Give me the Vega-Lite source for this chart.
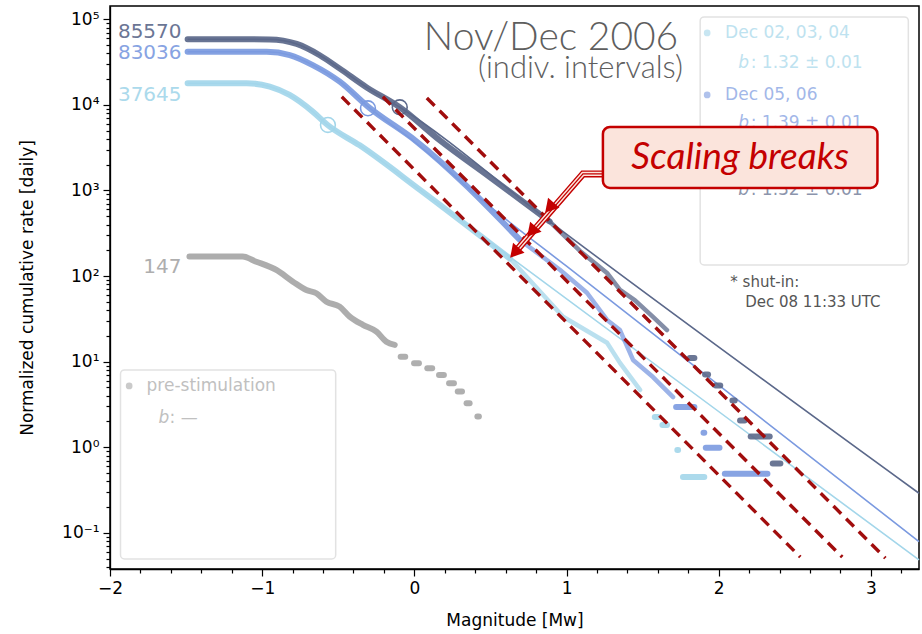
{
"$schema":"https://vega.github.io/schema/vega-lite/v6.json",
"width":809,"height":563,
"autosize":{"type":"none"},
"padding":{"left":110,"top":6,"right":3,"bottom":65},
"background":"white",
"config":{"view":{"stroke":"#000","strokeWidth":1.5},"font":"DejaVu Sans",
 "axis":{"grid":false,"domainColor":"#000","domainWidth":1.3,"tickColor":"#000","tickWidth":1.2,"labelColor":"#000","labelFont":"DejaVu Sans","labelFontSize":17,"titleFont":"DejaVu Sans","titleFontSize":17,"titleFontWeight":"normal","titleColor":"#000","labelPadding":4,"labelOverlap":false,"labelFlush":false,"labelBound":false}},
"datasets":{
 "lines":[
  {"s":"d","k":"model","m":-1.49,"v":58340},{"s":"d","k":"model","m":-0.95,"v":58200},{"s":"d","k":"model","m":-0.773,"v":51500},{"s":"d","k":"model","m":-0.622,"v":38000},{"s":"d","k":"model","m":-0.49,"v":26500},{"s":"d","k":"model","m":-0.313,"v":16000},{"s":"d","k":"model","m":-0.096,"v":9376},{"s":"d","k":"model","m":0.888,"v":435.5},{"s":"d","k":"model","m":3.316,"v":0.29},
  {"s":"d","k":"data","m":-1.49,"v":58340},{"s":"d","k":"data","m":-0.95,"v":58200},{"s":"d","k":"data","m":-0.773,"v":51500},{"s":"d","k":"data","m":-0.622,"v":38000},{"s":"d","k":"data","m":-0.49,"v":26500},{"s":"d","k":"data","m":-0.313,"v":16000},{"s":"d","k":"data","m":-0.096,"v":9376},{"s":"d","k":"data","m":0.168,"v":3846},{"s":"d","k":"data","m":0.5,"v":1416},{"s":"d","k":"data","m":0.888,"v":435.5},
  {"s":"d","k":"tail","m":0.888,"v":435.5},{"s":"d","k":"tail","m":1.088,"v":196.3},{"s":"d","k":"tail","m":1.266,"v":108.6},{"s":"d","k":"tail","m":1.351,"v":68.9},{"s":"d","k":"tail","m":1.45,"v":52},{"s":"d","k":"tail","m":1.568,"v":33.3},{"s":"d","k":"tail","m":1.66,"v":23.4},
  {"s":"b","k":"model","m":-1.49,"v":41780},{"s":"b","k":"model","m":-0.97,"v":41780},{"s":"b","k":"model","m":-0.819,"v":38190},{"s":"b","k":"model","m":-0.668,"v":29170},{"s":"b","k":"model","m":-0.49,"v":18660},{"s":"b","k":"model","m":-0.305,"v":9550},{"s":"b","k":"model","m":0.009,"v":3600},{"s":"b","k":"model","m":0.5,"v":641.2},{"s":"b","k":"model","m":1.0,"v":130.3},{"s":"b","k":"model","m":3.316,"v":0.0789},
  {"s":"b","k":"data","m":-1.49,"v":41780},{"s":"b","k":"data","m":-0.97,"v":41780},{"s":"b","k":"data","m":-0.819,"v":38190},{"s":"b","k":"data","m":-0.668,"v":29170},{"s":"b","k":"data","m":-0.49,"v":18660},{"s":"b","k":"data","m":-0.305,"v":9550},{"s":"b","k":"data","m":0.009,"v":3802},{"s":"b","k":"data","m":0.694,"v":264.2},
  {"s":"b","k":"tail","m":0.694,"v":264.2},{"s":"b","k":"tail","m":0.956,"v":118.3},{"s":"b","k":"tail","m":1.134,"v":63.8},{"s":"b","k":"tail","m":1.266,"v":30.7},{"s":"b","k":"tail","m":1.351,"v":23.4},{"s":"b","k":"tail","m":1.437,"v":10.47},{"s":"b","k":"tail","m":1.568,"v":6.61},{"s":"b","k":"tail","m":1.7,"v":3.855},
  {"s":"l","k":"model","m":-1.49,"v":17860},{"s":"l","k":"model","m":-1.101,"v":17860},{"s":"l","k":"model","m":-0.95,"v":16330},{"s":"l","k":"model","m":-0.82,"v":13060},{"s":"l","k":"model","m":-0.668,"v":8337},{"s":"l","k":"model","m":-0.57,"v":5821},{"s":"l","k":"model","m":-0.359,"v":3365},{"s":"l","k":"model","m":0.037,"v":1016},{"s":"l","k":"model","m":0.628,"v":167.5},{"s":"l","k":"model","m":3.316,"v":0.0482},
  {"s":"l","k":"data","m":-1.49,"v":17860},{"s":"l","k":"data","m":-1.101,"v":17860},{"s":"l","k":"data","m":-0.95,"v":16330},{"s":"l","k":"data","m":-0.82,"v":13060},{"s":"l","k":"data","m":-0.668,"v":8337},{"s":"l","k":"data","m":-0.57,"v":5821},{"s":"l","k":"data","m":-0.359,"v":3365},{"s":"l","k":"data","m":0.037,"v":1016},{"s":"l","k":"data","m":0.628,"v":160},
  {"s":"l","k":"tail","m":0.628,"v":160},{"s":"l","k":"tail","m":0.977,"v":33.42},{"s":"l","k":"tail","m":1.266,"v":16.6},{"s":"l","k":"tail","m":1.351,"v":9.68},{"s":"l","k":"tail","m":1.483,"v":4.677},
  {"s":"p","k":"data","m":-1.478,"v":168.7},{"s":"p","k":"data","m":-1.129,"v":168.7},{"s":"p","k":"data","m":-1.039,"v":147.2},{"s":"p","k":"data","m":-0.907,"v":117.8},{"s":"p","k":"data","m":-0.798,"v":85.9},{"s":"p","k":"data","m":-0.71,"v":68.7},{"s":"p","k":"data","m":-0.644,"v":63.0},{"s":"p","k":"data","m":-0.578,"v":50.2},{"s":"p","k":"data","m":-0.491,"v":43.9},{"s":"p","k":"data","m":-0.425,"v":33.6},{"s":"p","k":"data","m":-0.338,"v":26.9},{"s":"p","k":"data","m":-0.249,"v":22.4},{"s":"p","k":"data","m":-0.184,"v":17.1},{"s":"p","k":"data","m":-0.129,"v":15.7}
 ],
 "steps":[
  {"s":"d","m":1.81,"m2":1.84,"v":11.04},{"s":"d","m":1.91,"m2":1.93,"v":7.079},{"s":"d","m":1.98,"m2":2.01,"v":5.272},{"s":"d","m":2.09,"m2":2.105,"v":3.524},{"s":"d","m":2.14,"m2":2.17,"v":2.056},{"s":"d","m":2.21,"m2":2.335,"v":1.337},{"s":"d","m":2.355,"m2":2.405,"v":0.6471},
  {"s":"b","m":1.72,"m2":1.84,"v":2.951},{"s":"b","m":1.9,"m2":1.905,"v":1.476},{"s":"b","m":1.915,"m2":2.005,"v":0.9863},{"s":"b","m":2.04,"m2":2.32,"v":0.4898},
  {"s":"l","m":1.58,"m2":1.6,"v":2.259},{"s":"l","m":1.63,"m2":1.66,"v":1.82},{"s":"l","m":1.728,"m2":1.733,"v":0.929},{"s":"l","m":1.765,"m2":1.905,"v":0.4498},
  {"s":"p","m":-0.09,"m2":-0.06,"v":11.4},{"s":"p","m":-0.002,"m2":0.03,"v":9.57},{"s":"p","m":0.085,"m2":0.117,"v":8.38},{"s":"p","m":0.162,"m2":0.194,"v":7.0},{"s":"p","m":0.228,"m2":0.26,"v":5.6},{"s":"p","m":0.285,"m2":0.313,"v":4.47},{"s":"p","m":0.343,"m2":0.363,"v":3.27},{"s":"p","m":0.414,"m2":0.424,"v":2.28}
 ],
 "circles":[{"s":"d","m":-0.096,"v":9376},{"s":"b","m":-0.305,"v":9120},{"s":"l","m":-0.568,"v":5821}],
 "dashed":[{"g":"A","m":-0.477,"v":12420},{"g":"A","m":2.536,"v":0.0521},{"g":"B","m":-0.207,"v":12420},{"g":"B","m":2.812,"v":0.0521},{"g":"C","m":0.082,"v":12050},{"g":"C","m":3.095,"v":0.0507}],
 "boxes":[{"m":1.878,"m2":3.246,"v":106400,"v2":134.9},{"m":-1.931,"m2":-0.517,"v":8.0,"v2":0.0495}],
 "legend":[
  {"role":"dot","s":"l","m":1.924,"v":69180},{"role":"title","s":"l","m":2.042,"v":69180,"t":"Dec 02, 03, 04"},{"role":"b","s":"l","m":2.128,"v":30620,"t":"b"},{"role":"val","s":"l","m":2.21,"v":30620,"t":": 1.32 ± 0.01"},
  {"role":"dot","s":"b","m":1.924,"v":13060},{"role":"title","s":"b","m":2.042,"v":13060,"t":"Dec 05, 06"},{"role":"b","s":"b","m":2.128,"v":6095,"t":"b"},{"role":"val","s":"b","m":2.21,"v":6095,"t":": 1.39 ± 0.01"},
  {"role":"dot","s":"d","m":1.924,"v":2483},{"role":"title","s":"d","m":2.042,"v":2483,"t":"Dec 07 – shut-in"},{"role":"b","s":"d","m":2.128,"v":1014,"t":"b"},{"role":"val","s":"d","m":2.21,"v":1014,"t":": 1.32 ± 0.01"},
  {"role":"dot","s":"p","m":-1.874,"v":5.2},{"role":"title","s":"p","m":-1.76,"v":5.2,"t":"pre-stimulation"},{"role":"b","s":"p","m":-1.681,"v":2.2,"t":"b"},{"role":"val","s":"p","m":-1.609,"v":2.2,"t":": —"}
 ],
 "counts":[{"s":"d","m":-1.53,"v":71610,"t":"85570"},{"s":"b","m":-1.53,"v":40090,"t":"83036"},{"s":"l","m":-1.53,"v":13060,"t":"37645"},{"s":"p","m":-1.53,"v":128.8,"t":"147"}],
 "notes":[{"role":"h1","m":1.734,"v":43750,"t":"Nov/Dec 2006"},{"role":"h2","m":1.766,"v":20610,"t":"(indiv. intervals)"},{"role":"foot","m":2.076,"v":86.1,"t":"* shut-in:"},{"role":"foot","m":2.174,"v":50.2,"t":"Dec 08  11:33 UTC"},{"role":"callout","m":2.141,"v":2399,"t":"Scaling breaks"}],
 "arrow":[{"i":1,"m":1.239,"v":1560},{"i":2,"m":1.108,"v":1560},{"i":3,"m":0.658,"v":187.5}],
 "heads":[{"m":0.888,"v":629.5},{"m":0.77,"v":330.4},{"m":0.658,"v":187.5}],
 "callbox":[{"m":1.239,"m2":3.043,"v":5521,"v2":1069}]
},
"encoding":{
 "x":{"field":"m","type":"quantitative","scale":{"domain":[-2,3.316],"nice":false,"zero":false},
  "axis":{"title":"Magnitude [Mw]","titlePadding":16,"values":[-2,-1.8,-1.6,-1.4,-1.2,-1,-0.8,-0.6,-0.4,-0.2,0,0.2,0.4,0.6,0.8,1,1.2,1.4,1.6,1.8,2,2.2,2.4,2.6,2.8,3,3.2],
   "labelExpr":"abs(datum.value-round(datum.value))<1e-6 ? (datum.value<0 ? '−'+abs(round(datum.value)) : ''+round(datum.value)) : ''",
   "tickSize":{"condition":{"test":"abs(datum.value-round(datum.value))<1e-6","value":7},"value":4}}},
 "y":{"field":"v","type":"quantitative","scale":{"type":"log","domain":[0.0378,142900],"nice":false},
  "axis":{"title":"Normalized cumulative rate [daily]","titlePadding":25,
   "values":[0.04,0.05,0.06,0.07,0.08,0.09,0.1,0.2,0.3,0.4,0.5,0.6,0.7,0.8,0.9,1,2,3,4,5,6,7,8,9,10,20,30,40,50,60,70,80,90,100,200,300,400,500,600,700,800,900,1000,2000,3000,4000,5000,6000,7000,8000,9000,10000,20000,30000,40000,50000,60000,70000,80000,90000,100000],
   "labelExpr":"abs(log(datum.value)/LN10-round(log(datum.value)/LN10))<1e-6 ? '10'+['⁻¹','⁰','¹','²','³','⁴','⁵'][round(log(datum.value)/LN10)+1] : ''",
   "tickSize":{"condition":{"test":"abs(log(datum.value)/LN10-round(log(datum.value)/LN10))<1e-6","value":7},"value":4}}}
},
"layer":[
 {"data":{"name":"lines"},"transform":[{"filter":"datum.k=='model'"}],"mark":{"type":"line","strokeWidth":1.6,"interpolate":"monotone"},
  "encoding":{"color":{"field":"s","type":"nominal","scale":{"domain":["d","b","l","p"],"range":["#5b688a","#7b9ae0","#a3d6ea","#a6a6a6"]},"legend":null}}},
 {"data":{"name":"lines"},"transform":[{"filter":"datum.k=='data'"}],"mark":{"type":"line","strokeWidth":6,"strokeCap":"round","strokeJoin":"round","opacity":0.92,"interpolate":"monotone"},
  "encoding":{"color":{"field":"s","type":"nominal","scale":{"domain":["d","b","l","p"],"range":["#5b688a","#7b9ae0","#a3d6ea","#a6a6a6"]},"legend":null}}},
 {"data":{"name":"lines"},"transform":[{"filter":"datum.k=='tail'"}],"mark":{"type":"line","strokeWidth":4.5,"strokeCap":"round","strokeJoin":"round","opacity":0.75},
  "encoding":{"color":{"field":"s","type":"nominal","scale":{"domain":["d","b","l","p"],"range":["#5b688a","#7b9ae0","#a3d6ea","#a6a6a6"]},"legend":null}}},
 {"data":{"name":"steps"},"mark":{"type":"rule","strokeWidth":6,"strokeCap":"round","opacity":0.9},
  "encoding":{"x2":{"field":"m2"},"color":{"field":"s","type":"nominal","scale":{"domain":["d","b","l","p"],"range":["#5b688a","#7b9ae0","#a3d6ea","#a6a6a6"]},"legend":null}}},
 {"data":{"name":"circles"},"mark":{"type":"point","filled":false,"size":220,"strokeWidth":1.6,"opacity":1},
  "encoding":{"color":{"field":"s","type":"nominal","scale":{"domain":["d","b","l","p"],"range":["#5b688a","#7b9ae0","#a3d6ea","#a6a6a6"]},"legend":null}}},
 {"data":{"name":"dashed"},"mark":{"type":"line","color":"#a10d0d","strokeWidth":3.4,"strokeDash":[11,7]},"encoding":{"detail":{"field":"g"}}},
 {"data":{"name":"boxes"},"mark":{"type":"rect","fill":"white","stroke":"#e2e2e2","strokeWidth":1.5,"cornerRadius":4},"encoding":{"x2":{"field":"m2"},"y2":{"field":"v2"}}},
 {"data":{"name":"legend"},"transform":[{"filter":"datum.role=='dot'"}],"mark":{"type":"point","filled":true,"size":45,"opacity":0.6},
  "encoding":{"color":{"field":"s","type":"nominal","scale":{"domain":["d","b","l","p"],"range":["#5b688a","#7b9ae0","#a3d6ea","#a6a6a6"]},"legend":null}}},
 {"data":{"name":"legend"},"transform":[{"filter":"datum.role=='title'"}],"mark":{"type":"text","align":"left","baseline":"middle","fontSize":17,"font":"DejaVu Sans","opacity":0.7},
  "encoding":{"text":{"field":"t"},"color":{"field":"s","type":"nominal","scale":{"domain":["d","b","l","p"],"range":["#5b688a","#7b9ae0","#a3d6ea","#a6a6a6"]},"legend":null}}},
 {"data":{"name":"legend"},"transform":[{"filter":"datum.role=='b'"}],"mark":{"type":"text","align":"left","baseline":"middle","fontSize":17,"font":"DejaVu Sans","fontStyle":"italic","opacity":0.7},
  "encoding":{"text":{"field":"t"},"color":{"field":"s","type":"nominal","scale":{"domain":["d","b","l","p"],"range":["#5b688a","#7b9ae0","#a3d6ea","#a6a6a6"]},"legend":null}}},
 {"data":{"name":"legend"},"transform":[{"filter":"datum.role=='val'"}],"mark":{"type":"text","align":"left","baseline":"middle","fontSize":17,"font":"DejaVu Sans","opacity":0.7},
  "encoding":{"text":{"field":"t"},"color":{"field":"s","type":"nominal","scale":{"domain":["d","b","l","p"],"range":["#5b688a","#7b9ae0","#a3d6ea","#a6a6a6"]},"legend":null}}},
 {"data":{"name":"counts"},"mark":{"type":"text","align":"right","baseline":"middle","fontSize":20,"font":"DejaVu Sans","opacity":0.9},
  "encoding":{"text":{"field":"t"},"color":{"field":"s","type":"nominal","scale":{"domain":["d","b","l","p"],"range":["#5b688a","#7b9ae0","#a3d6ea","#a6a6a6"]},"legend":null}}},
 {"data":{"name":"notes"},"transform":[{"filter":"datum.role=='h1'"}],"mark":{"type":"text","align":"right","baseline":"alphabetic","fontSize":39,"font":"Lato","fontWeight":300,"color":"#5e5e5e"},"encoding":{"text":{"field":"t"}}},
 {"data":{"name":"notes"},"transform":[{"filter":"datum.role=='h2'"}],"mark":{"type":"text","align":"right","baseline":"alphabetic","fontSize":31,"font":"Lato","fontWeight":300,"color":"#5e5e5e"},"encoding":{"text":{"field":"t"}}},
 {"data":{"name":"notes"},"transform":[{"filter":"datum.role=='foot'"}],"mark":{"type":"text","align":"left","baseline":"middle","fontSize":15,"font":"DejaVu Sans","color":"#555555"},"encoding":{"text":{"field":"t"}}},
 {"data":{"name":"arrow"},"mark":{"type":"line","color":"#c40000","strokeWidth":7,"strokeJoin":"miter"},"encoding":{"order":{"field":"i"}}},
 {"data":{"name":"arrow"},"mark":{"type":"line","color":"#fbe4dc","strokeWidth":4.2,"strokeJoin":"miter"},"encoding":{"order":{"field":"i"}}},
 {"data":{"name":"arrow"},"mark":{"type":"line","color":"#c40000","strokeWidth":1.3,"strokeJoin":"miter"},"encoding":{"order":{"field":"i"}}},
 {"data":{"name":"heads"},"mark":{"type":"point","shape":"triangle-down","filled":true,"size":230,"angle":41,"color":"#c40000","opacity":1}},
 {"data":{"name":"callbox"},"mark":{"type":"rect","fill":"#fbe4dc","stroke":"#c40000","strokeWidth":2.5,"cornerRadius":7},"encoding":{"x2":{"field":"m2"},"y2":{"field":"v2"}}},
 {"data":{"name":"notes"},"transform":[{"filter":"datum.role=='callout'"}],"mark":{"type":"text","align":"center","baseline":"middle","fontSize":37,"font":"Lato","fontStyle":"italic","color":"#c40000"},"encoding":{"text":{"field":"t"}}}
]
}
